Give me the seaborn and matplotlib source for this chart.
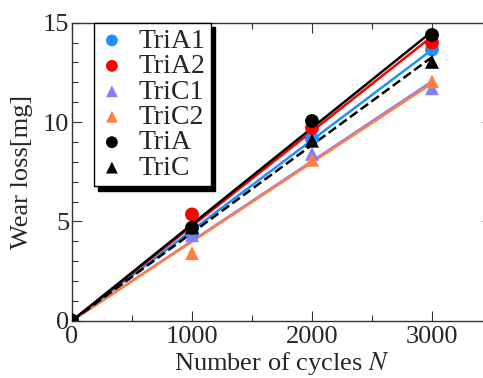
import numpy as np
import pandas as pd
import matplotlib
matplotlib.use("Agg")
import matplotlib.pyplot as plt
import seaborn as sns

cycles = [0, 1000, 2000, 3000]
tria1 = [0, 4.4, 9.15, 13.65]
tria2 = [0, 5.35, 9.7, 14.0]
tric1 = [0, 4.3, 8.4, 11.7]
tric2 = [0, 3.4, 8.1, 12.05]
tria = [0, 4.68, 10.05, 14.38]
tric = [0, 4.7, 9.06, 13.03]

names = ['TriA1', 'TriA2', 'TriC1', 'TriC2', 'TriA', 'TriC']
series = [tria1, tria2, tric1, tric2, tria, tric]
colors = ['#1e90ff', '#ff0000', '#8080ff', '#ff8040', '#000000', '#000000']
markers = ['o', 'o', '^', '^', 'o', '^']
dashes = ['-', '-', '-', '-', '-', '--']

sns.set_style("ticks")
plt.rcParams['font.family'] = 'serif'
plt.rcParams['font.serif'] = ['Liberation Serif', 'Times New Roman', 'DejaVu Serif']
plt.rcParams['mathtext.fontset'] = 'stix'

df = pd.DataFrame({'N': cycles * len(names),
                   'wear': np.concatenate(series),
                   'sample': np.repeat(names, len(cycles))})

fig = plt.figure(figsize=(4.83, 3.78), dpi=100)
ax = fig.add_axes([72 / 483, 57.3 / 378, 420 / 483, 298 / 378])

# fit lines through the origin
for name, ys, c, ls in zip(names, series, colors, dashes):
    x = np.array(cycles, dtype=float)
    y = np.array(ys)
    k = np.sum(x * y) / np.sum(x * x)
    fit = pd.DataFrame({'N': [0, 3000], 'wear': [0, 3000 * k]})
    sns.lineplot(data=fit, x='N', y='wear', color=c, linestyle=ls,
                 linewidth=1.8, ax=ax, legend=False)

for name, c, m in zip(names, colors, markers):
    sub = df[df['sample'] == name]
    sns.scatterplot(data=sub, x='N', y='wear', color=c, marker=m, s=100,
                    edgecolor='none', ax=ax, label=name, zorder=3)

ax.set_xlim(0, 3500)
ax.set_ylim(0, 15)
ax.set_xticks([0, 1000, 2000, 3000])
ax.set_xticks(np.arange(0, 3501, 500), minor=True)
ax.set_yticks([0, 5, 10, 15])
ax.set_yticks(np.arange(0, 16, 1), minor=True)
ax.tick_params(which='both', direction='in', top=True, right=True,
               labelsize=19, color='#333333')
ax.tick_params(which='major', length=7, width=0.8)
ax.tick_params(which='minor', length=4, width=0.8)
ax.tick_params(axis='x', pad=4)
ax.tick_params(axis='y', pad=2)
for sp in ax.spines.values():
    sp.set_linewidth(1.0)
    sp.set_color('#333333')

ax.set_xlabel('Number of cycles $N$', fontsize=19, labelpad=1)
ax.set_ylabel('Wear loss[mg]', fontsize=19, labelpad=7)

leg = ax.legend(loc='upper left', bbox_to_anchor=(0.052, 1.0), fontsize=20,
                frameon=True, fancybox=False,
                shadow={'color': 'black', 'alpha': 1, 'ox': 3, 'oy': -3},
                labelspacing=0.0, handletextpad=0.5, borderpad=0.2,
                handlelength=0.9, borderaxespad=0.0, markerscale=0.85)
leg.get_frame().set_edgecolor('black')
leg.get_frame().set_linewidth(1.0)

fig.savefig('out.png', dpi=100)
